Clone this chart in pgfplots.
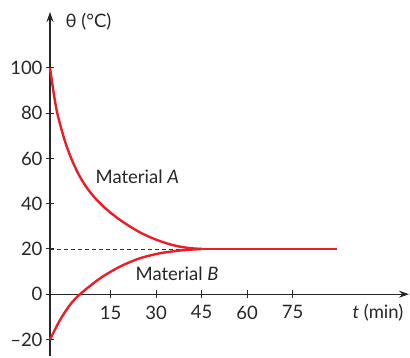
\documentclass[border=0pt]{standalone}
\usepackage{pgfplots}
\pgfplotsset{compat=1.18}
\usepackage{fontspec}
\setmainfont{Lato}
\usetikzlibrary{arrows.meta}
\definecolor{cred}{RGB}{235,30,40}
\newcommand{\lbl}{\fontsize{18.5}{21}\selectfont}
\begin{document}
\begin{tikzpicture}[x=1pt,y=1pt]
\begin{axis}[
  at={(0,0)}, anchor=south west,
  scale only axis, width=359pt, height=344pt,
  xmin=0, xmax=118.4, ymin=-27.3, ymax=124.7,
  axis lines=middle,
  axis line style={line width=1.1pt, black!85},
  x axis line style={-{Stealth[length=10pt,width=7pt]}},
  y axis line style={-{Stealth[length=10pt,width=7pt]}},
  xtick={20,35,50,65,80}, xticklabels={15,30,45,60,75},
  ytick={-20,0,20,40,60,80,100}, yticklabels={\textendash20,0,20,40,60,80,100},
  hide obscured x ticks=false, hide obscured y ticks=false,
  tick style={black!85, line width=1pt},
  major tick length=8pt, tick align=center,
  ticklabel style={font=\lbl, text=black!85},
  xticklabel style={yshift=-4pt},
  yticklabel style={xshift=0pt},
  clip=false,
]
\addplot[black!80, line width=0.6pt, dash pattern=on 4pt off 3pt] coordinates {(0,20) (50,20)};
\addplot[cred, line width=2.4pt, smooth] coordinates {
 (0,100) (1.25,88.6) (2.5,79.4) (5,67.3) (7.5,58.4) (10,51.6) (12.5,46.4) (15,42.3)
 (17.5,38.9) (20,36.0) (22.5,33.4) (25,31.1) (27.5,29.0) (30,27.1)
 (32.5,25.5) (35,24.1) (37.5,22.9) (40,21.9) (42.5,21.1) (45,20.55)
 (47.5,20.2) (50,20)};
\addplot[cred, line width=2.4pt, smooth] coordinates {
 (0,-20) (3.3,-11.4) (6.6,-4.7) (9.9,0) (16.5,7) (23.1,12.2) (29.7,15.9)
 (36.3,18.1) (42.9,19.3) (50,20)};
\addplot[cred, line width=2.4pt] coordinates {(50,20) (94.6,20)};
\node[anchor=west, font=\lbl, text=black!85] at (axis cs:4.0,120.3) {θ (°C)};
\node[anchor=east, font=\lbl, text=black!85] at (axis cs:117.7,-8.3) {\textit{t} (min)};
\node[font=\lbl, text=black!85] at (axis cs:28.8,52) {Material \textit{A}};
\node[font=\lbl, text=black!85] at (axis cs:41.9,9) {Material \textit{B}};
\end{axis}
\pgfresetboundingbox
\useasboundingbox (-50,-2) rectangle (360,356);
\end{tikzpicture}
\end{document}
